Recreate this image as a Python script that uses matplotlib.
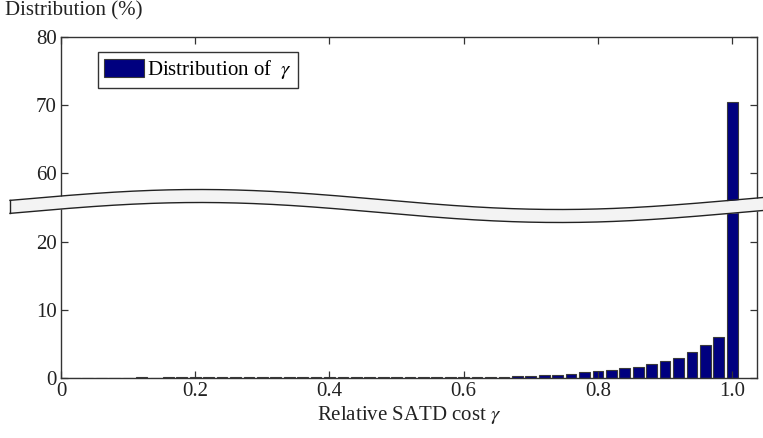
import numpy as np
import matplotlib.pyplot as plt

plt.rcParams['font.family'] = ['Liberation Serif', 'DejaVu Serif']
plt.rcParams['mathtext.fontset'] = 'stix'

# histogram of relative SATD cost (bin width 0.02, bins centred on 0.00 ... 1.00)
bin_centers = np.round(np.arange(0.0, 1.0001, 0.02), 2)
dist_pct = [
    0, 0, 0, 0, 0, 0,                   # 0.00 - 0.10
    0.1, 0,                             # 0.12, 0.14
    0.08, 0.08, 0.08, 0.08, 0.08, 0.08, 0.08, 0.08,   # 0.16 - 0.30
    0.08, 0.08, 0.08, 0.08, 0.08, 0.08, 0.08, 0.08,   # 0.32 - 0.46
    0.08, 0.08, 0.08, 0.08, 0.08, 0.08, 0.08,         # 0.48 - 0.60
    0.12, 0.18, 0.2, 0.25, 0.3, 0.4, 0.5, 0.65,       # 0.62 - 0.76
    0.85, 1.05, 1.15, 1.4, 1.65, 2.1, 2.5, 3.0,       # 0.78 - 0.92
    3.8, 4.85, 6.05, 70.4,                            # 0.94 - 1.00
]
xticks = [0, 0.2, 0.4, 0.6, 0.8, 1.0]
xtick_labels = ['0', '0.2', '0.4', '0.6', '0.8', '1.0']
yticks_low = [0, 10, 20]
yticks_high = [60, 70, 80]

W, H = 763, 438
PX_PER_UNIT = 6.8
BAR_COLOR = '#00007f'
EDGE = '#3a3a3a'
SPINE = '#333333'
FS = 15


def rect(x0, y0, x1, y1):
    # pixel box (top-left origin) -> figure fraction
    return [x0 / W, 1 - y1 / H, (x1 - x0) / W, (y1 - y0) / H]


fig = plt.figure(figsize=(W / 100, H / 100), dpi=100)
ax_lo = fig.add_axes(rect(61, 205, 757, 378))
ax_hi = fig.add_axes(rect(61, 37, 757, 205))

lo_top = (378 - 205) / PX_PER_UNIT
hi_span = (205 - 37) / PX_PER_UNIT

for ax in (ax_lo, ax_hi):
    bars = ax.bar(bin_centers, dist_pct, width=0.016, color=BAR_COLOR,
                  edgecolor=EDGE, linewidth=0.8, label=r'Distribution of  $\gamma$')
    ax.set_xlim(0, 1.037)
    ax.set_xticks(xticks)
    ax.tick_params(direction='in', length=5, width=0.9, colors=SPINE,
                   labelcolor='#222222', labelsize=FS, right=True, top=True, pad=3)
    for s in ax.spines.values():
        s.set_color(SPINE)
        s.set_linewidth(1.0)

ax_lo.set_ylim(0, lo_top)
ax_lo.set_yticks(yticks_low)
ax_lo.set_xticklabels(xtick_labels)
ax_lo.spines['top'].set_visible(False)
ax_lo.tick_params(top=False)
ax_lo.set_xlabel(r'Relative SATD cost $\gamma$', fontsize=FS, labelpad=2, color='#222222')

ax_hi.set_ylim(80 - hi_span, 80)
ax_hi.set_yticks(yticks_high)
ax_hi.spines['bottom'].set_visible(False)
ax_hi.tick_params(bottom=False, labelbottom=False)

leg = ax_hi.legend(loc='upper left', bbox_to_anchor=((98 - 61) / 696, 1 - (52 - 37) / 168),
                   borderaxespad=0, fancybox=False, framealpha=1, edgecolor=SPINE,
                   fontsize=FS, handlelength=1.9, handleheight=1.0, handletextpad=0.15,
                   borderpad=0.3)
leg.get_frame().set_linewidth(1.0)

fig.text(5 / W, 1 - 1 / H, 'Distribution (%)', ha='left', va='top', fontsize=FS, color='#222222')

# wavy band marking the axis break
ov = fig.add_axes([0, 0, 1, 1], zorder=10)
ov.set_xlim(0, W)
ov.set_ylim(H, 0)
ov.axis('off')
ov.patch.set_alpha(0)
xs = np.linspace(10, W, 400)
yc = 206 - 10 * np.cos(2 * np.pi * (xs - 200) / 720)
ov.fill_between(xs, yc - 6.5, yc + 6.5, color='#f3f3f3', lw=0)
ov.plot(xs, yc - 6.5, color='#222222', lw=1)
ov.plot(xs, yc + 6.5, color='#222222', lw=1)
ov.plot([10, 10], [yc[0] - 6.5, yc[0] + 6.5], color='#222222', lw=1)

fig.savefig('out.png', dpi=100)
